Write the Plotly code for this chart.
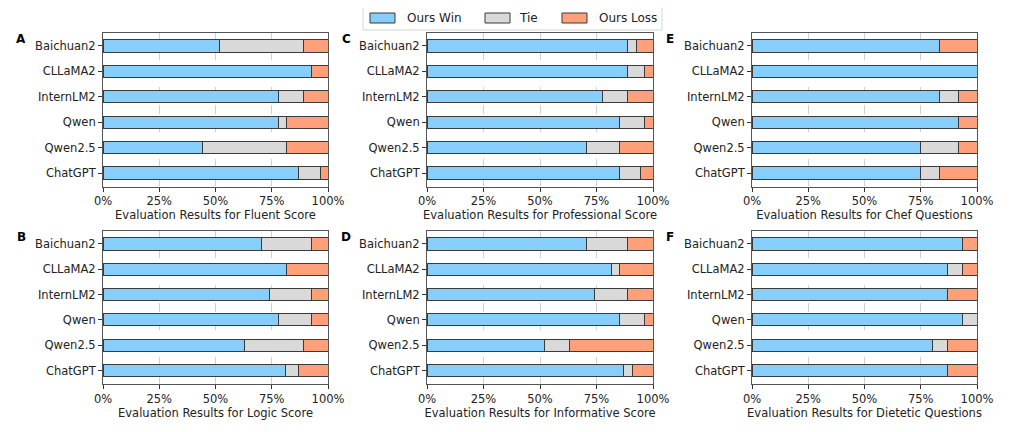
import plotly.graph_objects as go

# ---------------- data ----------------
models = ["Baichuan2", "CLLaMA2", "InternLM2", "Qwen", "Qwen2.5", "ChatGPT"]
x_tickvals = [0, 25, 50, 75, 100]
x_ticktext = ["0%", "25%", "50%", "75%", "100%"]
series_names = ["Ours Win", "Tie", "Ours Loss"]

fluent_win = [51.9, 92.6, 77.8, 77.8, 44.4, 86.9]
fluent_tie = [37.0, 0.0, 11.1, 3.7, 37.1, 9.6]
fluent_loss = [11.1, 7.4, 11.1, 18.5, 18.5, 3.5]

professional_win = [88.9, 88.9, 77.8, 85.2, 70.4, 85.1]
professional_tie = [3.8, 7.5, 11.1, 11.2, 14.8, 9.4]
professional_loss = [7.3, 3.6, 11.1, 3.6, 14.8, 5.5]

chef_win = [83.3, 100.0, 83.3, 91.7, 75.0, 75.0]
chef_tie = [0.0, 0.0, 8.4, 0.0, 16.7, 8.3]
chef_loss = [16.7, 0.0, 8.3, 8.3, 8.3, 16.7]

logic_win = [70.4, 81.5, 74.1, 77.8, 63.0, 81.1]
logic_tie = [22.2, 0.0, 18.5, 14.8, 25.9, 5.8]
logic_loss = [7.4, 18.5, 7.4, 7.4, 11.1, 13.1]

informative_win = [70.4, 81.5, 74.1, 85.2, 51.8, 87.0]
informative_tie = [18.5, 3.7, 14.8, 11.1, 11.1, 3.8]
informative_loss = [11.1, 14.8, 11.1, 3.7, 37.1, 9.2]

dietetic_win = [93.4, 86.7, 86.7, 93.4, 80.0, 86.7]
dietetic_tie = [0.0, 6.7, 0.0, 6.6, 6.7, 0.0]
dietetic_loss = [6.6, 6.6, 13.3, 0.0, 13.3, 13.3]

panels = [
    ("A", "Evaluation Results for Fluent Score", fluent_win, fluent_tie, fluent_loss),
    ("C", "Evaluation Results for Professional Score", professional_win, professional_tie, professional_loss),
    ("E", "Evaluation Results for Chef Questions", chef_win, chef_tie, chef_loss),
    ("B", "Evaluation Results for Logic Score", logic_win, logic_tie, logic_loss),
    ("D", "Evaluation Results for Informative Score", informative_win, informative_tie, informative_loss),
    ("F", "Evaluation Results for Dietetic Questions", dietetic_win, dietetic_tie, dietetic_loss),
]

# ---------------- style / layout ----------------
# The page body adds an 8px margin, so the figure is 1008x416 and all
# target window positions are shifted by that margin.
OFF = 8
W, H = 1024 - 2 * OFF, 432 - 2 * OFF
colors = ["#87CEFA", "#D9D9D9", "#FFA07A"]
edge = "#3a3a3a"
FONT = "DejaVu Sans"
col_px = [(103, 328), (427, 653), (752, 977)]
row_px = [(32.5, 186.5), (230.5, 384)]
letter_pos = [(21, 39), (346, 39), (670, 39), (21, 237), (346, 237), (670, 237)]


def px_x(x):
    return (x - OFF) / W


def px_y(y):
    return 1 - (y - OFF) / H


fig = go.Figure()
layout = dict(
    width=W, height=H,
    margin=dict(l=0, r=0, t=0, b=0, pad=0, autoexpand=False),
    paper_bgcolor="white", plot_bgcolor="white",
    barmode="stack", bargap=0.52,
    showlegend=False,
    font=dict(family=FONT, size=11.5, color="#222"),
)

annotations = []
shapes = []
for i, (letter, title, win, tie, loss) in enumerate(panels):
    r, c = divmod(i, 3)
    n = i + 1
    xa = "x" if n == 1 else f"x{n}"
    ya = "y" if n == 1 else f"y{n}"
    for vals, name, col in zip([win, tie, loss], series_names, colors):
        fig.add_trace(go.Bar(
            x=vals, y=models, orientation="h", name=name,
            marker=dict(color=col, line=dict(color=edge, width=1)),
            xaxis=xa, yaxis=ya, showlegend=False,
            hovertemplate="%{y}: %{x:.1f}%<extra>" + name + "</extra>",
        ))
    x0, x1 = col_px[c]
    y0, y1 = row_px[r]
    layout["xaxis" if n == 1 else f"xaxis{n}"] = dict(
        domain=[px_x(x0), px_x(x1)], anchor=ya, range=[0, 100],
        automargin=False,
        tickvals=x_tickvals, ticktext=x_ticktext,
        showgrid=True, gridcolor="#d0d0d0", griddash="dash", gridwidth=0.8,
        showline=True, linecolor="#555", linewidth=1, mirror=True,
        ticks="outside", ticklen=4, tickcolor="#333",
        tickfont=dict(family=FONT, size=11.5, color="#222"),
        zeroline=False,
        title=dict(text=title, standoff=3, font=dict(family=FONT, size=11.5, color="#222")),
    )
    layout["yaxis" if n == 1 else f"yaxis{n}"] = dict(
        domain=[px_y(y1), px_y(y0)], anchor=xa,
        automargin=False,
        type="category", categoryorder="array", categoryarray=models,
        range=[5.53, -0.53],
        showgrid=False, showline=True, linecolor="#555", linewidth=1, mirror=True,
        ticks="outside", ticklen=4, tickcolor="#333",
        tickfont=dict(family=FONT, size=11.5, color="#222"),
        zeroline=False,
    )
    lx, ly = letter_pos[i]
    annotations.append(dict(
        text=f"<b>{letter}</b>", x=px_x(lx), y=px_y(ly), xref="paper", yref="paper",
        showarrow=False, xanchor="center", yanchor="middle",
        font=dict(family=FONT, size=12, color="black"),
    ))

# ---------------- legend (manual, wide patches like the reference) ----------------
shapes.append(dict(
    type="rect", xref="paper", yref="paper",
    x0=px_x(363), x1=px_x(662), y0=px_y(30), y1=px_y(6),
    line=dict(color="#d5d5d5", width=1), fillcolor="white", layer="above",
))
legend_items = [(370, 405), (485, 517), (562, 597)]
for (px0, tx), name, col in zip(legend_items, series_names, colors):
    shapes.append(dict(
        type="rect", xref="paper", yref="paper",
        x0=px_x(px0), x1=px_x(px0 + 25), y0=px_y(23), y1=px_y(13),
        line=dict(color=edge, width=1), fillcolor=col, layer="above",
    ))
    annotations.append(dict(
        text=name, x=px_x(tx), y=px_y(18), xref="paper", yref="paper",
        showarrow=False, xanchor="left", yanchor="middle",
        font=dict(family=FONT, size=12, color="#222"),
    ))

layout["annotations"] = annotations
layout["shapes"] = shapes
fig.update_layout(**layout)
fig.write_html("out.html")
